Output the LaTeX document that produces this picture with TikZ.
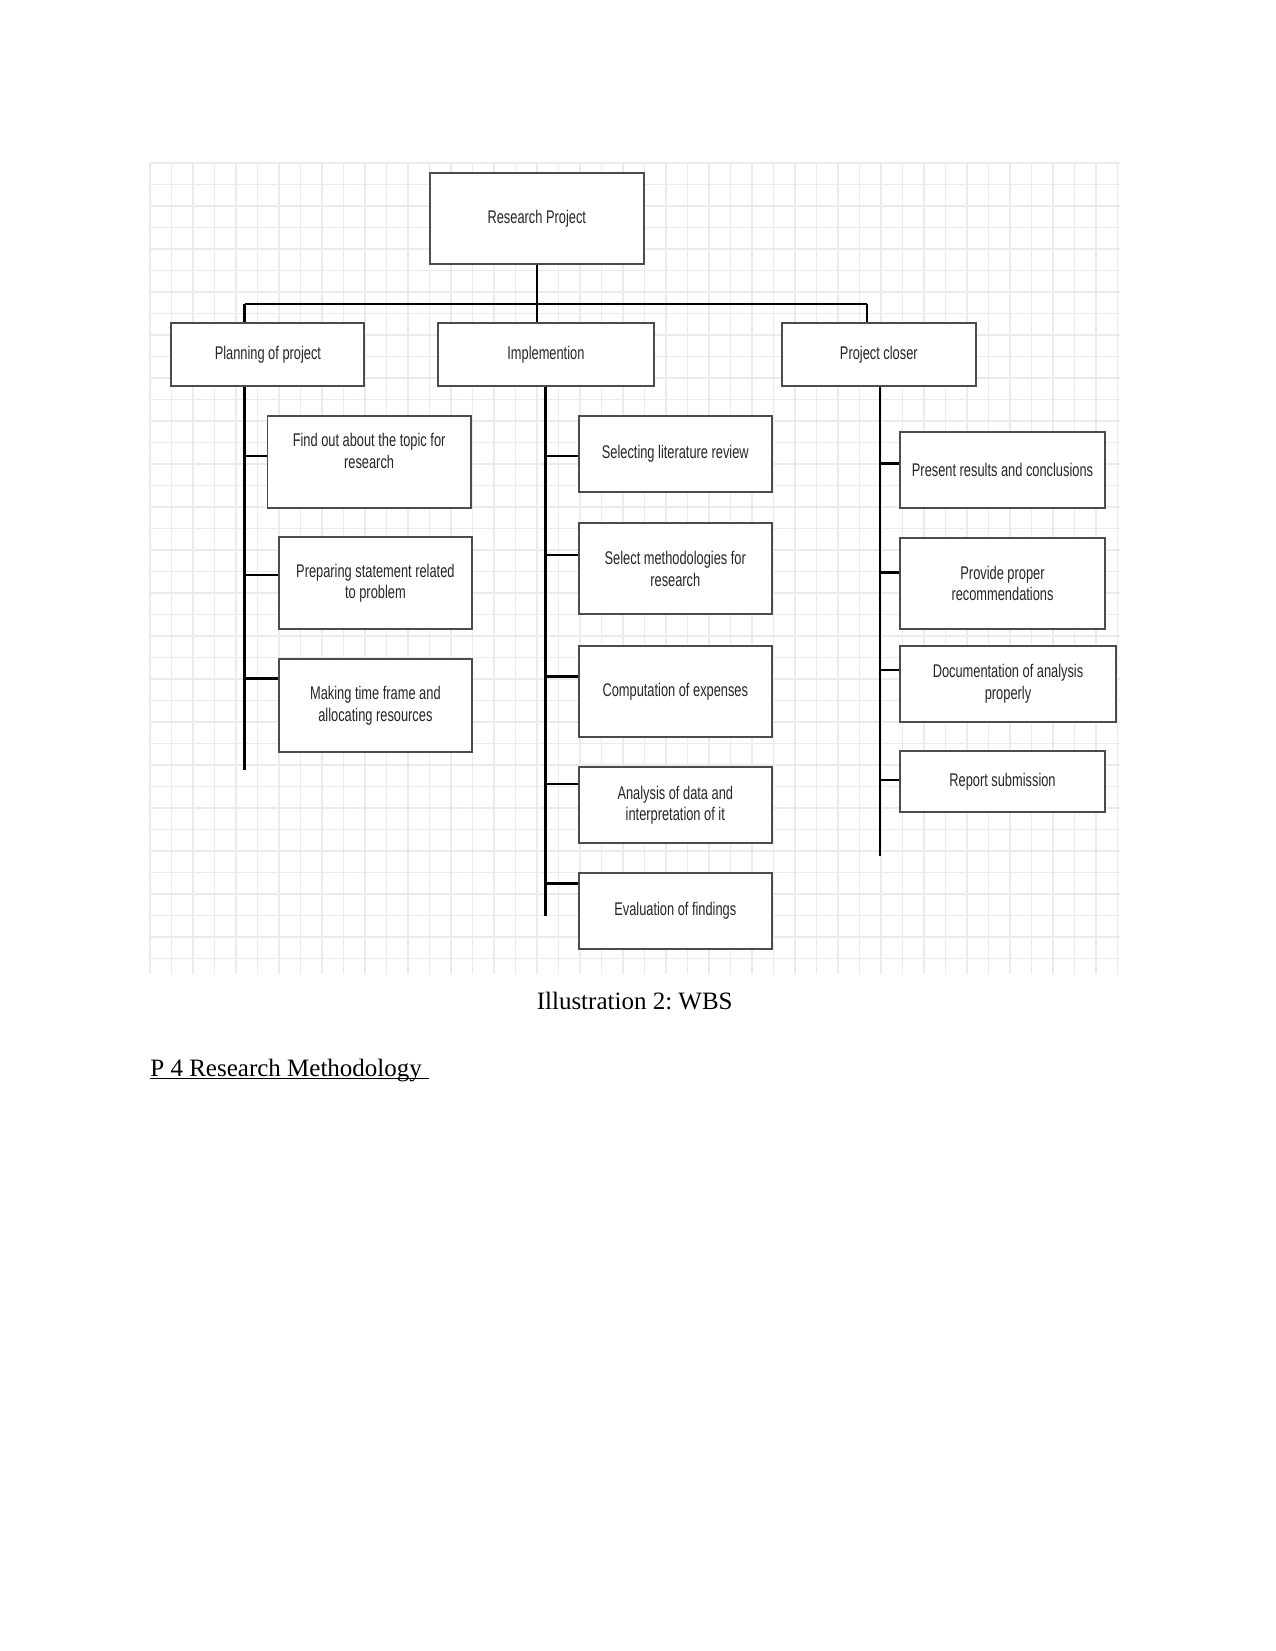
\documentclass[tikz,border=0pt]{standalone}
\usepackage{fontspec}
\setmainfont{Liberation Serif}
\newfontfamily\wbsfamily[FakeStretch=0.7]{Liberation Sans}
\newcommand\wbsfont{\wbsfamily\fontsize{8.8}{10.4}\selectfont}
\definecolor{gridgray}{HTML}{E9EBF1}
\frenchspacing

\begin{document}
\begin{tikzpicture}[
  x=0.48pt,
  y=-0.48pt,
  wbs/.style={
    draw=black!70,
    line width=0.9pt,
    fill=white,
    inner sep=0pt,
    align=center,
    font=\wbsfont,
    text=black!85
  },
  boxsz/.style 2 args={
    minimum width=#1*0.48pt,
    minimum height=#2*0.48pt
  },
  link/.style={
    line width=1.2pt,
    black
  },
  gridln/.style={
    gridgray,
    line width=0.5pt
  }
]
\useasboundingbox (0,0) rectangle (1275,1651);

% grid paper behind the chart
\foreach \x in {150,171.5,...,1120}
  \draw[gridln] (\x,163) -- (\x,974);
\foreach \y in {163,184.5,...,974}
  \draw[gridln] (150,\y) -- (1120,\y);

% top level
\node[wbs,boxsz={213.6}{91}] (root) at (536.8,218.8)
  {Research Project};

\node[wbs,boxsz={193}{62.4}] (plan) at (267.9,354.5)
  {Planning of project};
\node[wbs,boxsz={215.4}{62.4}] (impl) at (545.9,354.5)
  {Implemention};
\node[wbs,boxsz={193.5}{62.4}] (closer) at (878.8,354.5)
  {Project closer};

% planning tasks
\node[wbs,boxsz={203.2}{91.7}] (find) at (369.1,461.9)
  {Find out about the topic for\\research\\\mbox{}};
\node[wbs,boxsz={193.5}{92.3}] (prep) at (375.4,583.2)
  {Preparing statement related\\to problem};
\node[wbs,boxsz={193.5}{92.4}] (make) at (375.4,705.5)
  {Making time frame and\\allocating resources};

% implementation tasks
\node[wbs,boxsz={193.4}{75.7}] (lit) at (675.3,453.9)
  {Selecting literature review};
\node[wbs,boxsz={193.4}{91}] (meth) at (675.3,568.8)
  {Select methodologies for\\research};
\node[wbs,boxsz={193.4}{90.7}] (comp) at (675.3,691.4)
  {Computation of expenses};
\node[wbs,boxsz={193.4}{76}] (anal) at (675.3,805.3)
  {Analysis of data and\\interpretation of it};
\node[wbs,boxsz={193.4}{75.7}] (eval) at (675.3,911.2)
  {Evaluation of findings};

% closing tasks
\node[wbs,boxsz={204.2}{76.6}] (pres) at (1002.5,470)
  {Present results and conclusions};
\node[wbs,boxsz={204.2}{91.6}] (prov) at (1002.5,583.5)
  {Provide proper\\recommendations};
\node[wbs,boxsz={215.3}{75.7}] (doc) at (1008,683.9)
  {Documentation of analysis\\properly};
\node[wbs,boxsz={204.2}{61.3}] (rep) at (1002.5,781.7)
  {Report submission};

% bus under the root
\coordinate (busL) at (244.6,304);
\coordinate (busR) at (867,304);

\draw[link] (root.south) -- (root.south |- busL);
\draw[link] (busL) -- (busR);
\draw[link] (busL) -- (busL |- plan.north);
\draw[link] (root.south |- busL) -- (root.south |- impl.north);
\draw[link] (busR) -- (busR |- closer.north);

% spines
\coordinate (planEnd) at (244.6,770);
\coordinate (implEnd) at (545.7,916);
\coordinate (closerEnd) at (880,856);

\draw[link] (planEnd |- plan.south) -- (planEnd);
\draw[link] (implEnd |- impl.south) -- (implEnd);
\draw[link] (closerEnd |- closer.south) -- (closerEnd);

% ticks
\foreach \b/\t in {find/456,prep/575,make/678.3}
  \draw[link] (planEnd |- 0,\t) -- (\b.west |- 0,\t);
\foreach \b/\t in {lit/456,meth/555,comp/676.7,anal/784,eval/883.3}
  \draw[link] (implEnd |- 0,\t) -- (\b.west |- 0,\t);
\foreach \b/\t in {pres/463.3,prov/572.7,doc/670,rep/780}
  \draw[link] (closerEnd |- 0,\t) -- (\b.west |- 0,\t);

% text under the figure
\node[anchor=base,font=\fontsize{12}{14}\selectfont] (caption) at (634.7,1009.5)
  {Illustration 2: WBS};
\node[anchor=base west,inner sep=0pt,font=\fontsize{12}{14}\selectfont] (section) at (150,1076)
  {P 4 Research Methodology\kern3pt};
\draw[line width=0.6pt] ([yshift=-1.3pt]section.base west) -- ([yshift=-1.3pt]section.base east);
\end{tikzpicture}
\end{document}
